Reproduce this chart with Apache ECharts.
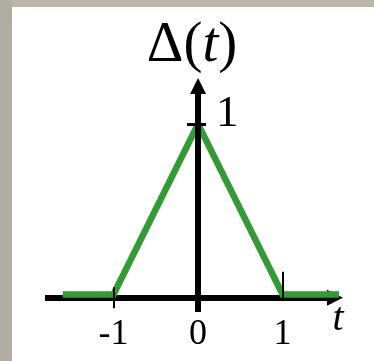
<!DOCTYPE html>
<html>
<head>
<meta charset="utf-8">
<script src="https://cdn.jsdelivr.net/npm/echarts@6/dist/echarts.min.js"></script>
<style>
  html, body { margin: 0; padding: 0; background: #ffffff; }
  #chart { width: 374px; height: 361px; }
</style>
</head>
<body>
<div id="chart"></div>
<script>
// Triangle pulse Δ(t): breakpoints along t and the pulse height there
const tValues = [-1.6, -1, 0, 1, 1.67];
const deltaValues = [0, 0, 1, 0, 0];

// Axis marks
const tTickValues = [-1, 0, 1];
const tTickLabels = ['-1', '0', '1'];
const deltaTickValues = [1];
const deltaTickLabels = ['1'];

// Visible axis ranges
const tRange = [-1.81, 1.62];
const deltaRange = [-0.103, 1.223];

const serif = 'Liberation Serif';
const ink = '#000000';
const green = '#319b34';

const points = tValues.map((t, i) => [t, deltaValues[i]]);
const tLabelOf = v => tTickLabels[tTickValues.indexOf(v)] ?? '';
const dLabelOf = v => deltaTickLabels[deltaTickValues.indexOf(v)] ?? '';

// plot box
const gridLeft = 45, gridRight = 39;
const gridWidth = 374 - gridLeft - gridRight;
// horizontal distance from the plot's left edge to t = 0, where the vertical axis stands
const zeroShift = (0 - tRange[0]) / (tRange[1] - tRange[0]) * gridWidth;

// solid arrowheads at the far ends of both axes
const arrowHead = { symbol: ['none', 'triangle'], symbolSize: [16, 16] };

// shared settings for the horizontal axes (all sit on the same line)
const xBase = {
  type: 'value',
  min: tRange[0],
  max: tRange[1],
  position: 'bottom',
  offset: -14.3,
  splitLine: { show: false },
  axisPointer: { show: false }
};

// shared settings for the vertical axes (both sit on t = 0)
const yBase = {
  type: 'value',
  min: deltaRange[0],
  max: deltaRange[1],
  position: 'left',
  offset: -zeroShift,
  z: 3,
  splitLine: { show: false },
  axisPointer: { show: false }
};

const chart = echarts.init(document.getElementById('chart'), null, { renderer: 'canvas' });

chart.setOption({
  animation: false,
  backgroundColor: '#ffffff',
  graphic: [
    { type: 'rect', left: 0, top: 0, shape: { width: 374, height: 7 }, style: { fill: '#bbb5aa' }, z: 100 },
    { type: 'rect', left: 0, top: 0, shape: { width: 12, height: 361 }, style: { fill: '#b1ada3' }, z: 100 }
  ],
  grid: { left: gridLeft, right: gridRight, top: 86, bottom: 49, containLabel: false },
  xAxis: [
    Object.assign({}, xBase, {
      axisLine: Object.assign({
        show: true,
        onZero: false,
        lineStyle: { color: ink, width: 6, cap: 'butt' }
      }, arrowHead),
      axisTick: { show: true, customValues: [-1], inside: false, length: 10.5, lineStyle: { color: ink, width: 2 } },
      axisLabel: {
        show: true,
        customValues: tTickValues,
        formatter: v => tLabelOf(v),
        margin: 19,
        color: ink,
        fontFamily: serif,
        fontSize: 36
      },
      name: 't',
      nameLocation: 'end',
      nameGap: 3,
      nameTextStyle: {
        color: ink,
        fontFamily: serif,
        fontStyle: 'italic',
        fontSize: 40,
        align: 'center',
        verticalAlign: 'top',
        padding: [2, 0, 0, 0]
      }
    }),
    Object.assign({}, xBase, {
      z: 3,
      axisLine: { show: false, onZero: false },
      axisTick: { show: true, customValues: [-1], inside: true, length: 10.5, lineStyle: { color: ink, width: 2 } },
      axisLabel: { show: false }
    }),
    Object.assign({}, xBase, {
      z: 3,
      axisLine: { show: false, onZero: false },
      axisTick: { show: true, customValues: [1], inside: true, length: 26, lineStyle: { color: ink, width: 2 } },
      axisLabel: { show: false }
    })
  ],
  yAxis: [
    Object.assign({}, yBase, {
      axisLine: Object.assign({
        show: true,
        onZero: false,
        lineStyle: { color: ink, width: 6, cap: 'butt' }
      }, arrowHead),
      axisTick: { show: true, customValues: deltaTickValues, inside: false, length: 11, lineStyle: { color: ink, width: 3 } },
      axisLabel: {
        show: true,
        inside: true,
        customValues: deltaTickValues,
        formatter: v => dLabelOf(v),
        margin: 18,
        verticalAlign: 'bottom',
        lineHeight: 19,
        color: ink,
        fontFamily: serif,
        fontSize: 45
      },
      name: '{n|Δ(}{i|t}{n|)}',
      nameLocation: 'end',
      nameGap: 11,
      nameTextStyle: {
        fontFamily: serif,
        fontSize: 57,
        color: ink,
        padding: [0, 12, 0, 0],
        rich: {
          n: { fontFamily: serif, fontSize: 57, color: ink },
          i: { fontFamily: serif, fontSize: 57, fontStyle: 'italic', color: ink }
        }
      }
    }),
    Object.assign({}, yBase, {
      axisLine: { show: false, onZero: false },
      axisTick: { show: true, customValues: deltaTickValues, inside: true, length: 8, lineStyle: { color: ink, width: 3 } },
      axisLabel: { show: false }
    })
  ],
  series: [
    {
      type: 'line',
      xAxisIndex: 0,
      yAxisIndex: 0,
      data: points,
      showSymbol: false,
      symbol: 'none',
      silent: true,
      z: 2,
      lineStyle: { color: green, width: 6.5, join: 'miter', cap: 'butt' }
    }
  ]
});
</script>
</body>
</html>
